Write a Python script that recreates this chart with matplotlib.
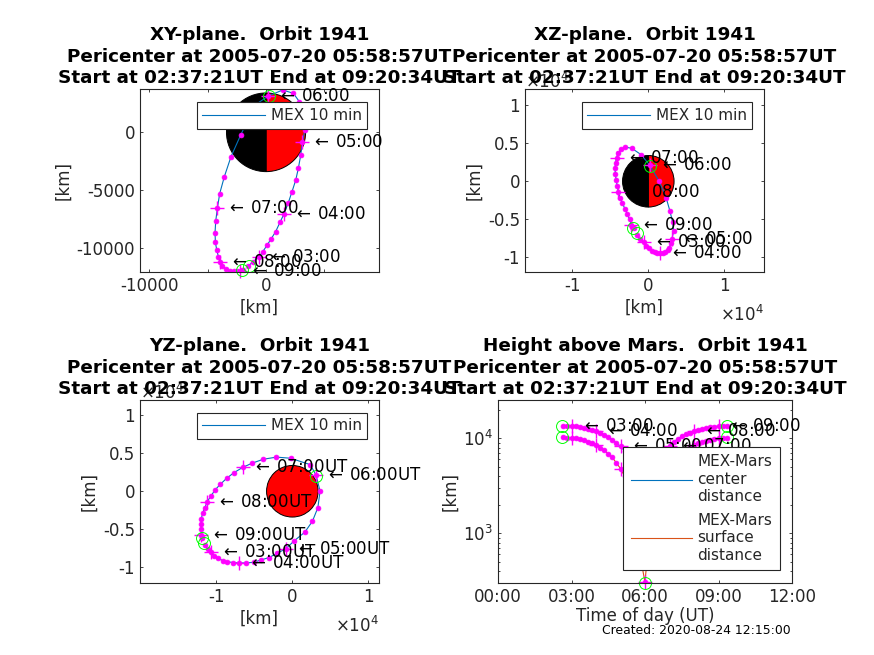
import matplotlib
matplotlib.use('Agg')
import matplotlib.pyplot as plt
from matplotlib.patches import Wedge
from matplotlib.ticker import FuncFormatter, NullFormatter, LogLocator

plt.rcParams['font.family'] = 'DejaVu Sans'
plt.rcParams['axes.unicode_minus'] = False
plt.rcParams['mathtext.fontset'] = 'cm'
plt.rcParams['mathtext.default'] = 'regular'

W, H = 874, 655
FS = 12
TITLE_FS = 13.2
LEG_FS = 11
BLUE = '#0072BD'
ORANGE = '#D95319'
DARK = '#262626'

# orbit samples, every 10 min
clock = ['02:40', '02:50', '03:00', '03:10', '03:20', '03:30', '03:40', '03:50', '04:00',
         '04:10', '04:20', '04:30', '04:40', '04:50', '05:00', '05:10', '05:20', '05:30',
         '05:40', '05:50', '06:00', '06:10', '06:20', '06:30', '06:40', '06:50', '07:00',
         '07:10', '07:20', '07:30', '07:40', '07:50', '08:00', '08:10', '08:20', '08:30',
         '08:40', '08:50', '09:00', '09:10', '09:20']
x_km = [-1514, -1085, -600, -286, 86, 457, 828, 1200, 1542,
        1914, 2228, 2542, 2770, 2970, 3113, 3340, 3200, 2856,
        2342, 1428, 200, -942, -2170, -3000, -3570, -3970, -4170,
        -4312, -4370, -4341, -4227, -4084, -3941, -3741, -3427, -3084,
        -2742, -2456, -2228, -2085, -1942]
y_km = [-11509, -11136, -10705, -10303, -9729, -9155, -8553, -7749, -7032,
        -6056, -5109, -4133, -3100, -1980, -832, 200, 1636, 2640,
        3358, 3645, 3128, 2353, -230, -2095, -3817, -5281, -6544,
        -7663, -8639, -9471, -10131, -10705, -11193, -11509, -11796, -11968,
        -11990, -11990, -11960, -11900, -11850]
z_km = [-7000, -7650, -8000, -8490, -8816, -9123, -9254, -9386, -9430,
        -9420, -9342, -9035, -8728, -8140, -7540, -6550, -5380, -3950,
        -2149, 20, 2100, 3500, 4342, 4490, 4211, 3700, 3130,
        2456, 1711, 921, 220, -610, -1360, -2170, -2830, -3600,
        -4320, -5020, -5700, -5950, -6200]
center_km = [13597, 13544, 13490, 13380, 13160, 12950, 12640, 12340, 11940,
             11380, 10880, 10255, 9670, 8890, 8200, 7360, 6465, 5540,
             4625, 3915, 3695, 4320, 4860, 5795, 6710, 7576, 8367,
             9128, 9830, 10460, 10980, 11475, 11945, 12295, 12600, 12870,
             13040, 13230, 13435, 13500, 13570]
surface_km = [10240, 10190, 10100, 9990, 9770, 9560, 9250, 8950, 8550,
              7990, 7490, 6865, 6280, 5500, 4810, 3970, 3075, 2150,
              1235, 525, 305, 930, 1470, 2405, 3320, 4186, 4977,
              5738, 6440, 7070, 7590, 8085, 8555, 8905, 9210, 9480,
              9650, 9840, 10045, 10110, 10180]

# start, pericenter, end
event_clock = [2 + 37.35 / 60, 5 + 58.95 / 60, 9 + 20.57 / 60]
event_x = [-1500, 286, -2017]
event_y = [-11566, 3157, -11850]
event_z = [-6754, 2061, -6184]
event_center = [13570, 3690, 13570]
event_surface = [10240, 300, 10240]

mars_radius = 3390

hours = [int(c[:2]) + int(c[3:]) / 60 for c in clock]
on_hour = [i for i, c in enumerate(clock) if c.endswith(':00')]


def make_axes(left, top, right, bottom):
    ax = fig.add_axes([left / W, 1 - bottom / H, (right - left) / W, (bottom - top) / H])
    ax.tick_params(which='both', direction='in', top=True, right=True, labelsize=FS,
                   colors=DARK, width=0.6, pad=3.5)
    ax.tick_params(which='major', length=2.2)
    ax.tick_params(which='minor', length=1.2)
    for s in ax.spines.values():
        s.set_linewidth(0.8)
        s.set_color(DARK)
    return ax


def draw_mars(ax, full_red=False):
    if full_red:
        ax.add_patch(Wedge((0, 0), mars_radius, 0, 360, fc='red', ec='k', lw=0.7, zorder=1))
    else:
        ax.add_patch(Wedge((0, 0), mars_radius, -90, 90, fc='red', ec='k', lw=0.7, zorder=1))
        ax.add_patch(Wedge((0, 0), mars_radius, 90, 270, fc='k', ec='k', lw=0.7, zorder=1))


def draw_track(ax, xs, ys, ex, ey, label='MEX 10 min', color=BLUE):
    ax.plot(xs, ys, color=color, lw=0.8, label=label, zorder=2)
    ax.plot(xs, ys, ls='none', marker='o', ms=3.5, mfc='#FF00FF', mec='#FF00FF', mew=0.5, zorder=2.1)
    ax.plot([xs[i] for i in on_hour], [ys[i] for i in on_hour], ls='none', marker='+', ms=9.5,
            mew=1.0, color='#FF00FF', zorder=2.2, clip_on=False)
    ax.plot(ex, ey, ls='none', marker='o', ms=8.6, mfc='none', mec='#00FF00', mew=0.7,
            zorder=2.3, clip_on=False)


def hour_labels(ax, xs, ys, suffix=''):
    for i in on_hour:
        ax.text(xs[i], ys[i], ' $\\;\\leftarrow\\;$' + clock[i] + suffix, fontsize=FS, color='k',
                va='center', ha='left', zorder=3)


def set_title(ax, first):
    ax.set_title(first + '  Orbit 1941\nPericenter at 2005-07-20 05:58:57UT\n'
                 'Start at 02:37:21UT End at 09:20:34UT',
                 fontsize=TITLE_FS, fontweight='bold', color='k', pad=4, linespacing=1.28)


def place_legend(ax, cx, cy, borderpad=0.37, handlelength=4.1, **kw):
    leg = ax.legend(loc='center', bbox_to_anchor=(cx / W, 1 - cy / H), bbox_transform=fig.transFigure,
                    fontsize=LEG_FS, fancybox=False, framealpha=1, edgecolor=DARK, borderaxespad=0,
                    borderpad=borderpad, handletextpad=0.37, handlelength=handlelength, **kw)
    leg.get_frame().set_linewidth(0.8)
    leg.set_zorder(5)
    for t in leg.get_texts():
        t.set_color(DARK)
        t.set_linespacing(1.2)
    return leg


def e4_axes(ax):
    fmt = FuncFormatter(lambda v, pos: f'{v / 1e4:g}')
    ax.xaxis.set_major_formatter(fmt)
    ax.yaxis.set_major_formatter(fmt)
    ax.set_xticks([-10000, 0, 10000])
    ax.set_yticks([-10000, -5000, 0, 5000, 10000])


fig = plt.figure(figsize=(W / 100, H / 100), dpi=100)

# XY
ax1 = make_axes(140, 89, 379, 272)
draw_mars(ax1)
draw_track(ax1, x_km, y_km, event_x, event_y)
hour_labels(ax1, x_km, y_km)
ax1.set_xlim(-10800, 9680)
ax1.set_ylim(-12040, 3730)
ax1.set_xticks([-10000, -5000, 0, 5000])
ax1.set_xticklabels(['-10000', '', '0', ''])
ax1.set_yticks([-10000, -5000, 0])
ax1.set_xlabel('[km]', fontsize=FS, color=DARK, labelpad=3)
ax1.set_ylabel('[km]', fontsize=FS, color=DARK, labelpad=3)
set_title(ax1, 'XY-plane.')
place_legend(ax1, 282, 115.5)

# XZ
ax2 = make_axes(525, 89, 764, 272)
draw_mars(ax2)
draw_track(ax2, x_km, z_km, event_x, event_z)
hour_labels(ax2, x_km, z_km)
e4_axes(ax2)
ax2.set_xlim(-16220, 15220)
ax2.set_ylim(-11930, 12140)
ax2.set_xlabel('[km]', fontsize=FS, color=DARK, labelpad=3)
ax2.set_ylabel('[km]', fontsize=FS, color=DARK, labelpad=3)
set_title(ax2, 'XZ-plane.')
place_legend(ax2, 667, 115.5)
ax2.text(1, -0.235, r'$\times 10^4$', transform=ax2.transAxes, ha='right', va='center', fontsize=FS, color=DARK)
ax2.text(0, 1.04, r'$\times 10^4$', transform=ax2.transAxes, ha='left', va='center', fontsize=FS, color=DARK)

# YZ
ax3 = make_axes(140, 400, 379, 583)
draw_mars(ax3, full_red=True)
draw_track(ax3, y_km, z_km, event_y, event_z)
hour_labels(ax3, y_km, z_km, suffix='UT')
e4_axes(ax3)
ax3.set_xlim(-20040, 11400)
ax3.set_ylim(-12060, 12000)
ax3.set_xlabel('[km]', fontsize=FS, color=DARK, labelpad=3)
ax3.set_ylabel('[km]', fontsize=FS, color=DARK, labelpad=3)
set_title(ax3, 'YZ-plane.')
place_legend(ax3, 282, 426)
ax3.text(1, -0.235, r'$\times 10^4$', transform=ax3.transAxes, ha='right', va='center', fontsize=FS, color=DARK)
ax3.text(0, 1.04, r'$\times 10^4$', transform=ax3.transAxes, ha='left', va='center', fontsize=FS, color=DARK)

# height above Mars
ax4 = make_axes(498, 400, 792, 583)
draw_track(ax4, hours, center_km, event_clock, event_center, label='MEX-Mars\ncenter\ndistance')
draw_track(ax4, hours, surface_km, event_clock, event_surface, label='MEX-Mars\nsurface\ndistance', color=ORANGE)
hour_labels(ax4, hours, center_km)
ax4.set_yscale('log')
ax4.set_xlim(0, 12)
ax4.set_ylim(300, 25300)
ax4.set_xticks([0, 3, 6, 9, 12])
ax4.set_xticklabels(['00:00', '03:00', '06:00', '09:00', '12:00'])
ax4.yaxis.set_minor_locator(LogLocator(base=10, subs=range(2, 10), numticks=10))
ax4.yaxis.set_minor_formatter(NullFormatter())
ax4.set_xlabel('Time of day (UT)', fontsize=FS, color=DARK, labelpad=1)
ax4.set_ylabel('[km]', fontsize=FS, color=DARK, labelpad=3)
set_title(ax4, 'Height above Mars.')
place_legend(ax4, 701.5, 508.5, borderpad=0.5, handlelength=3.97, labelspacing=0.55)

fig.text(791 / W, 1 - 630 / H, 'Created: 2020-08-24 12:15:00', fontsize=8.9, color='k', ha='right', va='center')

fig.savefig('out.png', dpi=100)
